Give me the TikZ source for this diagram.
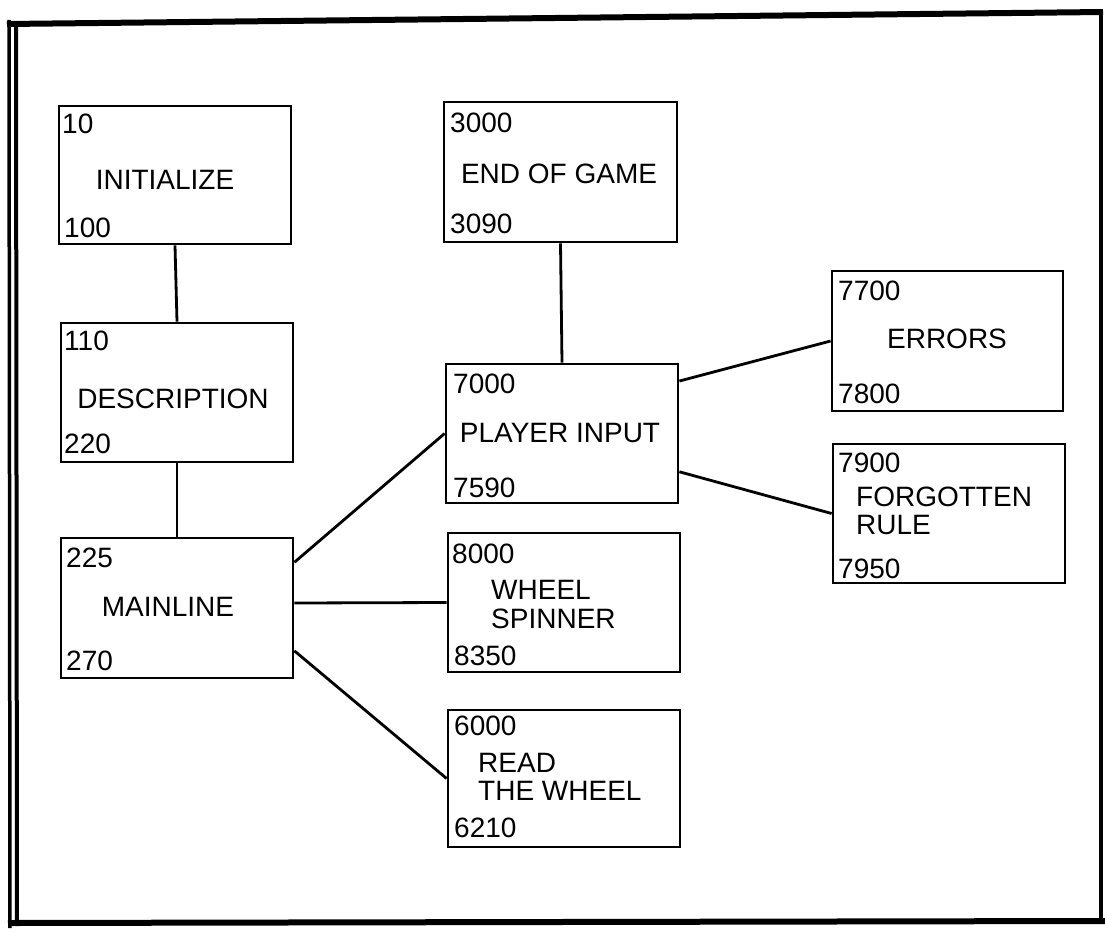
\documentclass[tikz,border=0pt]{standalone}
\usepackage{fontspec}
\setmainfont{Liberation Sans}
\usetikzlibrary{calc}
\begin{document}
\begin{tikzpicture}[x=1pt,y=-1pt,
  pbox/.style={draw=black,line width=2.8pt,rectangle,minimum width=#1,minimum height=139pt,inner sep=0pt},
  pbox/.default=232pt,
  lbl/.style={anchor=base west,inner sep=0pt,font=\fontsize{28}{28}\selectfont,text=black},
  ctr/.style={anchor=base,inner sep=0pt,font=\fontsize{28}{28}\selectfont,text=black},
  conn/.style={draw=black,line width=2.8pt},
  frame/.style={draw=black,line width=#1},
  frame/.default=4pt]
\useasboundingbox (0,0) rectangle (1105,931);
% frame
\draw[frame=6pt] (7,24) -- (1103,12);
\draw[frame=3.5pt] (9,20) -- (10,928);
\draw[frame=4pt] (16,24) -- (17,926);
\draw[frame=6pt] (8,923) -- (1105,921);
\draw[frame=4pt] (1101,12) -- (1101,922);
% boxes
\node[pbox,minimum height=138pt] (init) at (175,175) {};
\node[pbox] (desc) at (177,392.5) {};
\node[pbox,minimum height=140pt] (main) at (177,608) {};
\node[pbox=233pt,minimum height=140pt] (endg) at (560.5,172) {};
\node[pbox] (player) at (562,433.5) {};
\node[pbox] (wheel) at (564,602.5) {};
\node[pbox,minimum height=137pt] (read) at (564,778.5) {};
\node[pbox=231pt,minimum height=140pt] (errors) at (947.5,341) {};
\node[pbox] (forgot) at (949,513.5) {};
% texts
\node[lbl] (t10) at (62,133) {10};
\node[ctr] (tinit) at (165,189) {INITIALIZE};
\node[lbl] (t100) at (64,237) {100};
\node[lbl] (t110) at (64,350) {110};
\node[ctr] (tdesc) at (173,408) {DESCRIPTION};
\node[lbl] (t220) at (64,453) {220};
\node[lbl] (t225) at (66,567) {225};
\node[ctr] (tmain) at (168,616) {MAINLINE};
\node[lbl] (t270) at (66,670) {270};
\node[lbl] (t3000) at (450,132) {3000};
\node[ctr] (tend) at (559,183) {END OF GAME};
\node[lbl] (t3090) at (450,233) {3090};
\node[lbl] (t7000) at (453,393) {7000};
\node[ctr] (tplay) at (560,442) {PLAYER INPUT};
\node[lbl] (t7590) at (453,497) {7590};
\node[lbl] (t8000) at (452,563) {8000};
\node[lbl] (twheel) at (491,599) {WHEEL};
\node[lbl] (tspin) at (491,628) {SPINNER};
\node[lbl] (t8350) at (454,665) {8350};
\node[lbl] (t6000) at (454,735) {6000};
\node[lbl] (tread) at (478,772) {READ};
\node[lbl] (tthe) at (478,800) {THE WHEEL};
\node[lbl] (t6210) at (454,837) {6210};
\node[lbl] (t7700) at (838,300) {7700};
\node[ctr] (terr) at (947,348) {ERRORS};
\node[lbl] (t7800) at (838,403) {7800};
\node[lbl] (t7900) at (838,472) {7900};
\node[lbl] (tforg) at (856,506) {FORGOTTEN};
\node[lbl] (trule) at (856,534) {RULE};
\node[lbl] (t7950) at (838,578) {7950};
% connectors
\draw[conn] (init.south) -- (desc.north);
\draw[conn] (desc.south) -- (main.north);
\draw[conn] ($(main.north east)!0.18!(main.south east)$) -- (player.west);
\draw[conn] ($(main.east)+(0,-5)$) -- (wheel.west);
\draw[conn] ($(main.north east)!0.8!(main.south east)$) -- (read.west);
\draw[conn] (endg.south) -- (player.north);
\draw[conn] ($(player.north east)!0.13!(player.south east)$) -- (errors.west);
\draw[conn] ($(player.north east)!0.77!(player.south east)$) -- (forgot.west);
\end{tikzpicture}
\end{document}
